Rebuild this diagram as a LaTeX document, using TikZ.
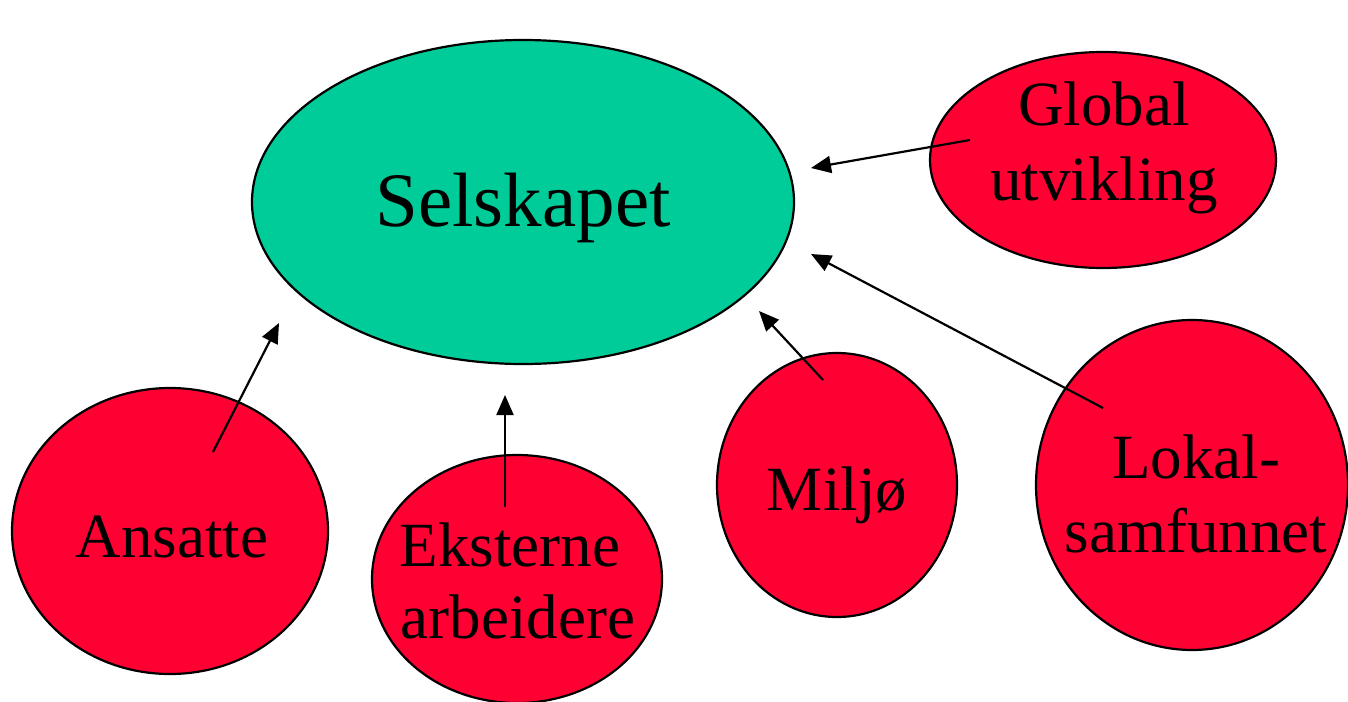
\documentclass[tikz,border=0pt]{standalone}
\usepackage{fontspec}
\setmainfont{Liberation Serif}
\usetikzlibrary{shapes.geometric,arrows.meta}
\definecolor{grn}{HTML}{00CC99}
\definecolor{rd}{HTML}{FF0033}
\tikzset{
  blob/.style={ellipse,draw=black,line width=2.2pt,inner sep=0pt},
  main/.style={blob,fill=grn},
  side/.style={blob,fill=rd},
  lbl/.style={anchor=base,inner sep=0pt,font=\fontsize{63}{72}\selectfont},
  biglbl/.style={anchor=base,inner sep=0pt,font=\fontsize{77}{88}\selectfont},
  arr/.style={line width=2.2pt,-{Triangle[length=20pt,width=17pt]}}
}
\begin{document}
\begin{tikzpicture}[x=1pt,y=-1pt]
\useasboundingbox (0,0) rectangle (1348,701);
\node[main,minimum width=542pt,minimum height=324pt] (sel) at (523,202) {};
\node[side,minimum width=346pt,minimum height=216pt] (glob) at (1103,160) {};
\node[side,minimum width=316pt,minimum height=286pt] (ans) at (170,531) {};
\node[side,minimum width=290pt,minimum height=248pt] (eks) at (517,579) {};
\node[side,minimum width=240pt,minimum height=264pt] (mil) at (837,485) {};
\node[side,minimum width=312pt,minimum height=330pt] (lok) at (1192,485) {};
\node[biglbl] (tsel) at (523,226) {Selskapet};
\node[lbl] (tglob1) at (1104,125) {Global};
\node[lbl] (tglob2) at (1104,200) {utvikling};
\node[lbl] (tans) at (172,557) {Ansatte};
\node[lbl] (teks1) at (510,566) {Eksterne};
\node[lbl] (teks2) at (518,638) {arbeidere};
\node[lbl] (tmil) at (837,510) {Miljø};
\node[lbl] (tlok1) at (1196,478) {Lokal-};
\node[lbl] (tlok2) at (1196,552) {samfunnet};
\coordinate (gs) at (970,140);  \coordinate (ge) at (811,168);
\coordinate (ls) at (1103,408); \coordinate (le) at (811,254);
\coordinate (ms) at (823,380);  \coordinate (me) at (759,311);
\coordinate (es) at (505,507);  \coordinate (ee) at (505,395);
\coordinate (as) at (213,452);  \coordinate (ae) at (279,323);
\draw[arr] (gs) -- (ge);
\draw[arr] (ls) -- (le);
\draw[arr] (ms) -- (me);
\draw[arr] (es) -- (ee);
\draw[arr] (as) -- (ae);
\end{tikzpicture}
\end{document}
